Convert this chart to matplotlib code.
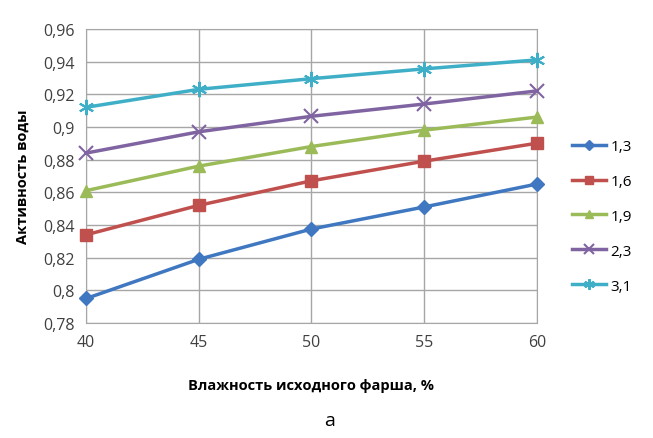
import matplotlib
matplotlib.use("Agg")
import matplotlib.pyplot as plt
from matplotlib.ticker import FixedLocator

x = [40, 45, 50, 55, 60]
labels = ["1,3", "1,6", "1,9", "2,3", "3,1"]
s13 = [0.795, 0.819, 0.8375, 0.851, 0.865]
s16 = [0.834, 0.852, 0.867, 0.879, 0.890]
s19 = [0.861, 0.876, 0.888, 0.898, 0.906]
s23 = [0.884, 0.897, 0.9065, 0.914, 0.922]
s31 = [0.912, 0.923, 0.9295, 0.9355, 0.941]
yticks = [0.78, 0.80, 0.82, 0.84, 0.86, 0.88, 0.90, 0.92, 0.94, 0.96]
ytick_labels = ["0,78", "0,8", "0,82", "0,84", "0,86", "0,88", "0,9", "0,92", "0,94", "0,96"]

plt.rcParams['font.family'] = ['Open Sans', 'DejaVu Sans']

fig = plt.figure(figsize=(6.53, 4.39), dpi=100)
ax = fig.add_axes([0.132, 0.262, 0.69, 0.67])

series = [s13, s16, s19, s23, s31]
colors = ["#3F78C0", "#C0504D", "#9BBB59", "#8064A2", "#3FAFC8"]
markers = ["D", "s", "^", "x", (6, 2, 0)]
msizes = [7, 9, 9, 10, 11]
for ys, lab, c, m, ms in zip(series, labels, colors, markers, msizes):
    ax.plot(x, ys, color=c, lw=2.5, marker=m, markersize=ms, label=lab,
            markeredgewidth=1.5 if m in ("x",) or isinstance(m, tuple) else 1,
            clip_on=False, zorder=3)

ax.set_xlim(40, 60)
ax.set_ylim(0.78, 0.96)
ax.xaxis.set_major_locator(FixedLocator(x))
ax.set_xticks(x)
ax.set_xticklabels([str(v) for v in x])
ax.set_yticks(yticks)
ax.set_yticklabels(ytick_labels)
ax.grid(True, color="#A6A6A6", lw=1)
ax.set_axisbelow(True)
for sp in ax.spines.values():
    sp.set_color("#A6A6A6")
ax.tick_params(length=0, labelsize=11.5, colors="#404040", pad=8)

ax.set_xlabel("Влажность исходного фарша, %", fontsize=10.5, fontweight="bold", labelpad=20)
ax.set_ylabel("Активность воды", fontsize=10.5, fontweight="bold", labelpad=10)

leg = fig.legend(loc="center left", bbox_to_anchor=(0.865, 0.505), frameon=False,
                 fontsize=11, handlelength=2.2, labelspacing=1.3, borderpad=0, handletextpad=0.3,
                 markerscale=0.7)

fig.text(0.505, 0.04, "а", ha="center", va="center", fontsize=14)

fig.savefig("out.png", dpi=100)
